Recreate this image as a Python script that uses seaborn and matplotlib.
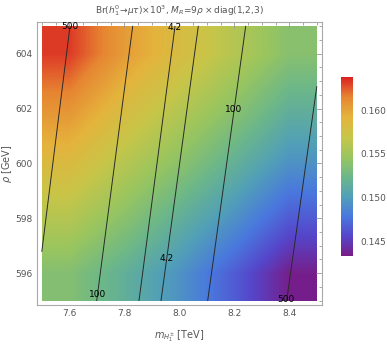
import numpy as np
import pandas as pd
import matplotlib
matplotlib.use("Agg")
import matplotlib.pyplot as plt
from matplotlib.ticker import MultipleLocator
import seaborn as sns

# ---- data ----
x_grid = [7.5, 7.75, 8.0, 8.25, 8.5]            # m_H1± [TeV]
y_grid = [595.0, 597.5, 600.0, 602.5, 605.0]    # rho [GeV]
br_595 = [0.1536, 0.1516, 0.1494, 0.1466, 0.1435]
br_5975 = [0.1560, 0.1539, 0.1516, 0.1493, 0.1465]
br_600 = [0.1584, 0.1561, 0.1540, 0.1517, 0.1493]
br_6025 = [0.1608, 0.1583, 0.1561, 0.1540, 0.1516]
br_605 = [0.1632, 0.1604, 0.1582, 0.1560, 0.1538]

# overlaid contour lines (end points)
line_x0 = [7.500, 7.6996, 7.8535, 7.9335, 8.1033, 8.3905]
line_y0 = [596.79, 595.0, 595.0, 595.0, 595.0, 595.0]
line_x1 = [7.6025, 7.8305, 7.9844, 8.0691, 8.2415, 8.500]
line_y1 = [605.0, 605.0, 605.0, 605.0, 605.0, 602.80]

label_text = ["500", "4.2", "100", "4.2", "100", "500"]
label_x = [7.6025, 7.9844, 8.199, 7.954, 7.702, 8.388]
label_y = [604.98, 604.96, 601.95, 596.52, 595.24, 595.03]

cbar_ticks = [0.145, 0.150, 0.155, 0.160]
vmin, vmax = 0.1433, 0.1638

# ---- style ----
sns.set_style("white")
plt.rcParams['font.family'] = ['DejaVu Sans']

rainbow = [(0.471, 0.109, 0.527), (0.334, 0.276, 0.794), (0.288, 0.472, 0.869),
           (0.320, 0.627, 0.717), (0.425, 0.719, 0.534), (0.603, 0.774, 0.371),
           (0.782, 0.775, 0.285), (0.896, 0.702, 0.236), (0.905, 0.524, 0.199),
           (0.857, 0.131, 0.132)]
cmap = sns.blend_palette(rainbow, as_cmap=True)

fig = plt.figure(figsize=(3.87, 3.49), dpi=100)
ax = fig.add_axes([37/387, 1-305/349, (322-37)/387, (305-22)/349])

Z = np.array([br_595, br_5975, br_600, br_6025, br_605])
im = ax.imshow(Z, origin='lower', extent=[x_grid[0], x_grid[-1], y_grid[0], y_grid[-1]],
               aspect='auto', cmap=cmap, vmin=vmin, vmax=vmax,
               interpolation='bilinear', interpolation_stage='data')

rows = []
for i in range(len(line_x0)):
    rows.append(dict(line=i, x=line_x0[i], y=line_y0[i]))
    rows.append(dict(line=i, x=line_x1[i], y=line_y1[i]))
df_lines = pd.DataFrame(rows)
sns.lineplot(data=df_lines, x='x', y='y', units='line', estimator=None, sort=False,
             color='#2a2a2a', lw=0.7, ax=ax, legend=False)

for t, lx, ly in zip(label_text, label_x, label_y):
    ax.text(lx, ly, t, fontsize=6.5, color='black', ha='center', va='center')

ax.set_xlim(7.4825, 8.519)
ax.set_ylim(594.84, 605.153)

ax.xaxis.set_major_locator(MultipleLocator(0.2))
ax.xaxis.set_minor_locator(MultipleLocator(0.05))
ax.yaxis.set_major_locator(MultipleLocator(2))
ax.yaxis.set_minor_locator(MultipleLocator(0.5))
ax.tick_params(which='both', direction='in', top=True, right=True, color='#999999',
               width=0.6, labelsize=6.5, labelcolor='#555555', pad=3)
ax.tick_params(which='major', length=4)
ax.tick_params(which='minor', length=2)
for s in ax.spines.values():
    s.set_color('#aaaaaa')
    s.set_linewidth(0.8)

ax.set_xlabel(r'$m_{H_1^{\pm}}$ [TeV]', fontsize=7, color='#555555', labelpad=7)
ax.set_ylabel(r'$\rho$ [GeV]', fontsize=7, color='#555555')
ax.yaxis.set_label_coords(-0.082, 0.5)
ax.set_title(r'Br($h_1^0\!\rightarrow\!\mu\tau$)$\times10^3$, $M_R$=9$\rho\times$diag(1,2,3)',
             fontsize=6.5, color='#555555', pad=6)

cax = fig.add_axes([341/387, 1-256/349, 12/387, (256-77)/349])
cb = fig.colorbar(im, cax=cax, ticks=cbar_ticks)
cb.outline.set_visible(False)
cb.ax.tick_params(length=0, labelsize=6.5, labelcolor='#555555', pad=5)
cb.ax.set_yticklabels(['%.3f' % t for t in cbar_ticks])

fig.savefig('out.png', dpi=100)
